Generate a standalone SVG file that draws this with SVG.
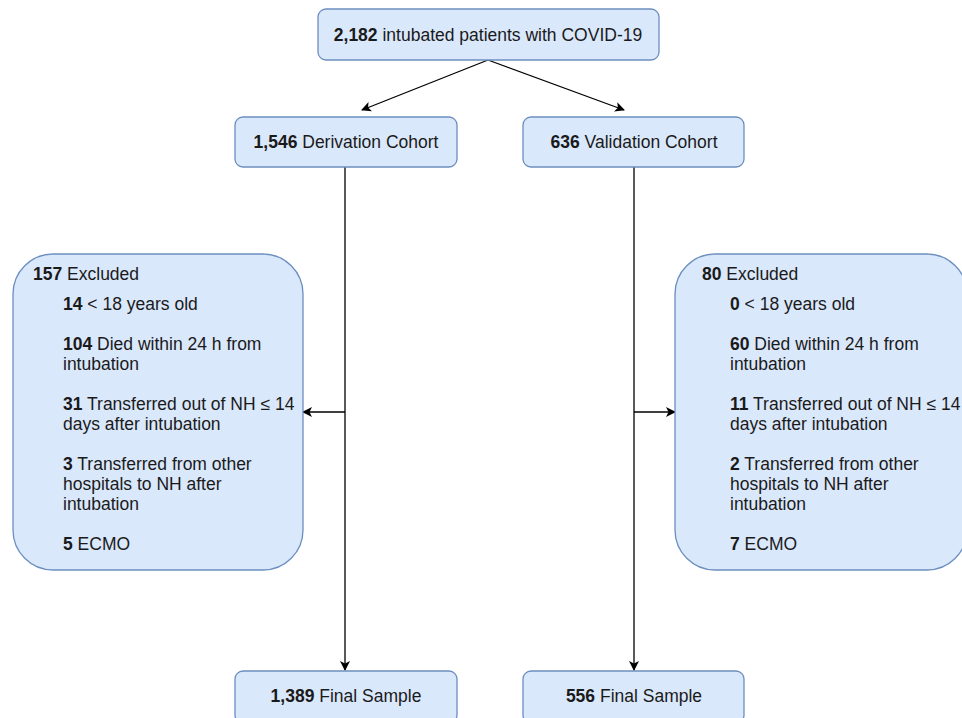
<svg xmlns="http://www.w3.org/2000/svg" width="962" height="718" viewBox="0 0 962 718">
<style>
.box{fill:#dae8fc;stroke:#6c8ebf;stroke-width:1.3}
text{font-family:"Liberation Sans",Arial,sans-serif;font-size:17.5px;fill:#1a1a1a}
.b{font-weight:bold}
.c{text-anchor:middle}
.ln{fill:none;stroke:#000;stroke-width:1.3}
</style>
<defs>
<marker id="ah" viewBox="0 0 10 10" refX="9" refY="5" markerWidth="10" markerHeight="10" markerUnits="userSpaceOnUse" orient="auto">
<path d="M0,0 L10,5 L0,10 L2.5,5 Z" fill="#000"/>
</marker>
</defs>
<rect width="962" height="718" fill="#fff"/>
<g id="connectors">
<line class="ln" x1="488" y1="60" x2="362" y2="110" marker-end="url(#ah)"/>
<line class="ln" x1="488" y1="60" x2="624" y2="110" marker-end="url(#ah)"/>
<line class="ln" x1="345" y1="167" x2="345" y2="670" marker-end="url(#ah)"/>
<line class="ln" x1="345" y1="412" x2="303" y2="412" marker-end="url(#ah)"/>
<line class="ln" x1="634" y1="167" x2="634" y2="670" marker-end="url(#ah)"/>
<line class="ln" x1="634" y1="412" x2="675" y2="412" marker-end="url(#ah)"/>
</g>
<g id="total">
<rect class="box" x="318" y="9" width="341" height="51" rx="8"/>
<text class="c" x="488" y="41"><tspan class="b">2,182</tspan> intubated patients with COVID-19</text>
</g>
<g id="derivation">
<rect class="box" x="235" y="117" width="222" height="50" rx="8"/>
<text class="c" x="346" y="148"><tspan class="b">1,546</tspan> Derivation Cohort</text>
</g>
<g id="validation">
<rect class="box" x="523" y="117" width="221" height="50" rx="8"/>
<text class="c" x="634" y="148"><tspan class="b">636</tspan> Validation Cohort</text>
</g>
<g id="excluded-derivation">
<rect class="box" x="13" y="254" width="290" height="316" rx="40"/>
<text x="33" y="280"><tspan class="b">157</tspan> Excluded</text>
<text x="63" y="310"><tspan class="b">14</tspan> &lt; 18 years old</text>
<text x="63" y="350"><tspan class="b">104</tspan> Died within 24 h from</text>
<text x="63" y="370">intubation</text>
<text x="63" y="410"><tspan class="b">31</tspan> Transferred out of NH ≤ 14</text>
<text x="63" y="430">days after intubation</text>
<text x="63" y="470"><tspan class="b">3</tspan> Transferred from other</text>
<text x="63" y="490">hospitals to NH after</text>
<text x="63" y="510">intubation</text>
<text x="63" y="550"><tspan class="b">5</tspan> ECMO</text>
</g>
<g id="excluded-validation">
<rect class="box" x="675" y="254" width="292" height="316" rx="40"/>
<text x="702" y="280"><tspan class="b">80</tspan> Excluded</text>
<text x="730" y="310"><tspan class="b">0</tspan> &lt; 18 years old</text>
<text x="730" y="350"><tspan class="b">60</tspan> Died within 24 h from</text>
<text x="730" y="370">intubation</text>
<text x="730" y="410"><tspan class="b">11</tspan> Transferred out of NH ≤ 14</text>
<text x="730" y="430">days after intubation</text>
<text x="730" y="470"><tspan class="b">2</tspan> Transferred from other</text>
<text x="730" y="490">hospitals to NH after</text>
<text x="730" y="510">intubation</text>
<text x="730" y="550"><tspan class="b">7</tspan> ECMO</text>
</g>
<g id="final-derivation">
<rect class="box" x="235" y="671" width="222" height="52" rx="8"/>
<text class="c" x="346" y="702"><tspan class="b">1,389</tspan> Final Sample</text>
</g>
<g id="final-validation">
<rect class="box" x="523" y="671" width="221" height="52" rx="8"/>
<text class="c" x="634" y="702"><tspan class="b">556</tspan> Final Sample</text>
</g>
</svg>
